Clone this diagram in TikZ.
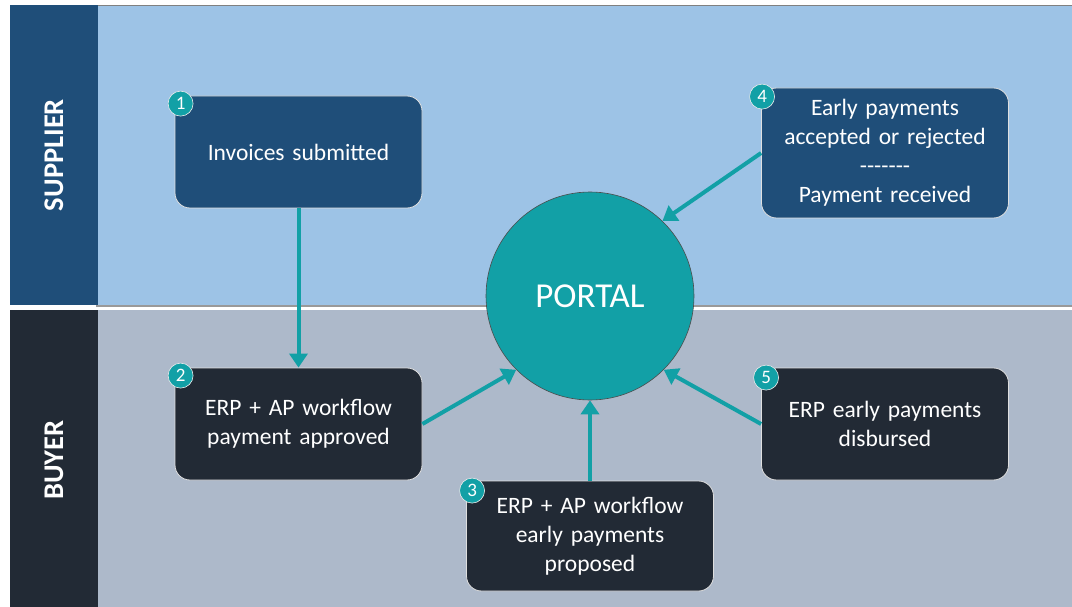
\documentclass[tikz,border=0pt]{standalone}
\usepackage{fontspec}
\usetikzlibrary{arrows.meta}
\setmainfont{Carlito}

\definecolor{supplierbg}{HTML}{9DC3E6}
\definecolor{supplierdark}{HTML}{1F4E79}
\definecolor{buyerbg}{HTML}{ADB9CA}
\definecolor{buyerdark}{HTML}{222A35}
\definecolor{tealc}{HTML}{12A0A6}

\tikzset{
  stepbox/.style={rectangle, rounded corners=15pt, draw=white!75!gray, line width=0.8pt,
    minimum width=247pt, text width=235pt, align=center, text=white,
    font=\fontsize{23.5}{29}\selectfont},
  badge/.style={circle, fill=tealc, draw=white!85!gray, line width=0.6pt, inner sep=0pt,
    minimum size=25pt, text=white, font=\fontsize{19}{19}\selectfont},
  flow/.style={line width=4pt, color=tealc, -{Triangle[length=14pt,width=18pt]}},
  lanelabel/.style={rotate=90, text=white, font=\fontsize{28.5}{28.5}\selectfont\bfseries}
}

\begin{document}
\begin{tikzpicture}[x=1pt,y=-1pt]
\useasboundingbox (0,0) rectangle (1072,607);
\fill[white] (0,0) rectangle (1072,607);

% Swim lanes
\fill [supplierbg] (10,5) rectangle (1072,305);
\draw [gray, line width=0.6pt] (10,5) -- (1072,5);
\draw [gray!80, line width=1.2pt] (96,306) -- (1072,306);
\fill [supplierdark] (10,5) rectangle (98,305);
\fill [buyerbg] (10,310) rectangle (1072,607);
\fill [buyerdark] (10,310) rectangle (98,607);

\node [lanelabel] (supplier) at (54,155) {SUPPLIER};
\node [lanelabel] (buyer)    at (54,460) {BUYER};

% The portal in the middle
\node [circle, fill=tealc, draw=black!70, line width=0.6pt, minimum size=208pt,
       text=white, font=\fontsize{35}{35}\selectfont] (portal) at (590,296) {PORTAL};

% Steps
\node [stepbox, fill=supplierdark, minimum height=112pt] (b1) at (298.5,152) {Invoices submitted};
\node [stepbox, fill=buyerdark,    minimum height=112pt] (b2) at (298.5,424) {ERP + AP workflow\\payment approved};
\node [stepbox, fill=buyerdark,    minimum height=110pt] (b3) at (590,536)   {ERP + AP workflow\\early payments\\proposed};
\node [stepbox, fill=supplierdark, minimum height=130pt] (b4) at (885,153)   {Early payments\\accepted or rejected\\{-}{-}{-}{-}{-}{-}{-}\\Payment received};
\node [stepbox, fill=buyerdark,    minimum height=112pt] (b5) at (885,424)   {ERP early payments\\disbursed};

% Numbers on the corners
\node [badge] (n1) at ([shift={(6,8)}]b1.north west) {1};
\node [badge] (n2) at ([shift={(6,8)}]b2.north west) {2};
\node [badge] (n3) at ([shift={(6,10)}]b3.north west) {3};
\node [badge] (n4) at ([shift={(1,9)}]b4.north west) {4};
\node [badge] (n5) at ([shift={(5,10)}]b5.north west) {5};

% Arrows
\draw [flow] (b1.south) -- (b2.north);
\draw [flow] (b2.east) -- (portal.225);
\draw [flow] (b3.north) -- (portal.south);
\draw [flow] (b4.west) -- (portal.46);
\draw [flow] (b5.west) -- (portal.315);

\end{tikzpicture}
\end{document}
